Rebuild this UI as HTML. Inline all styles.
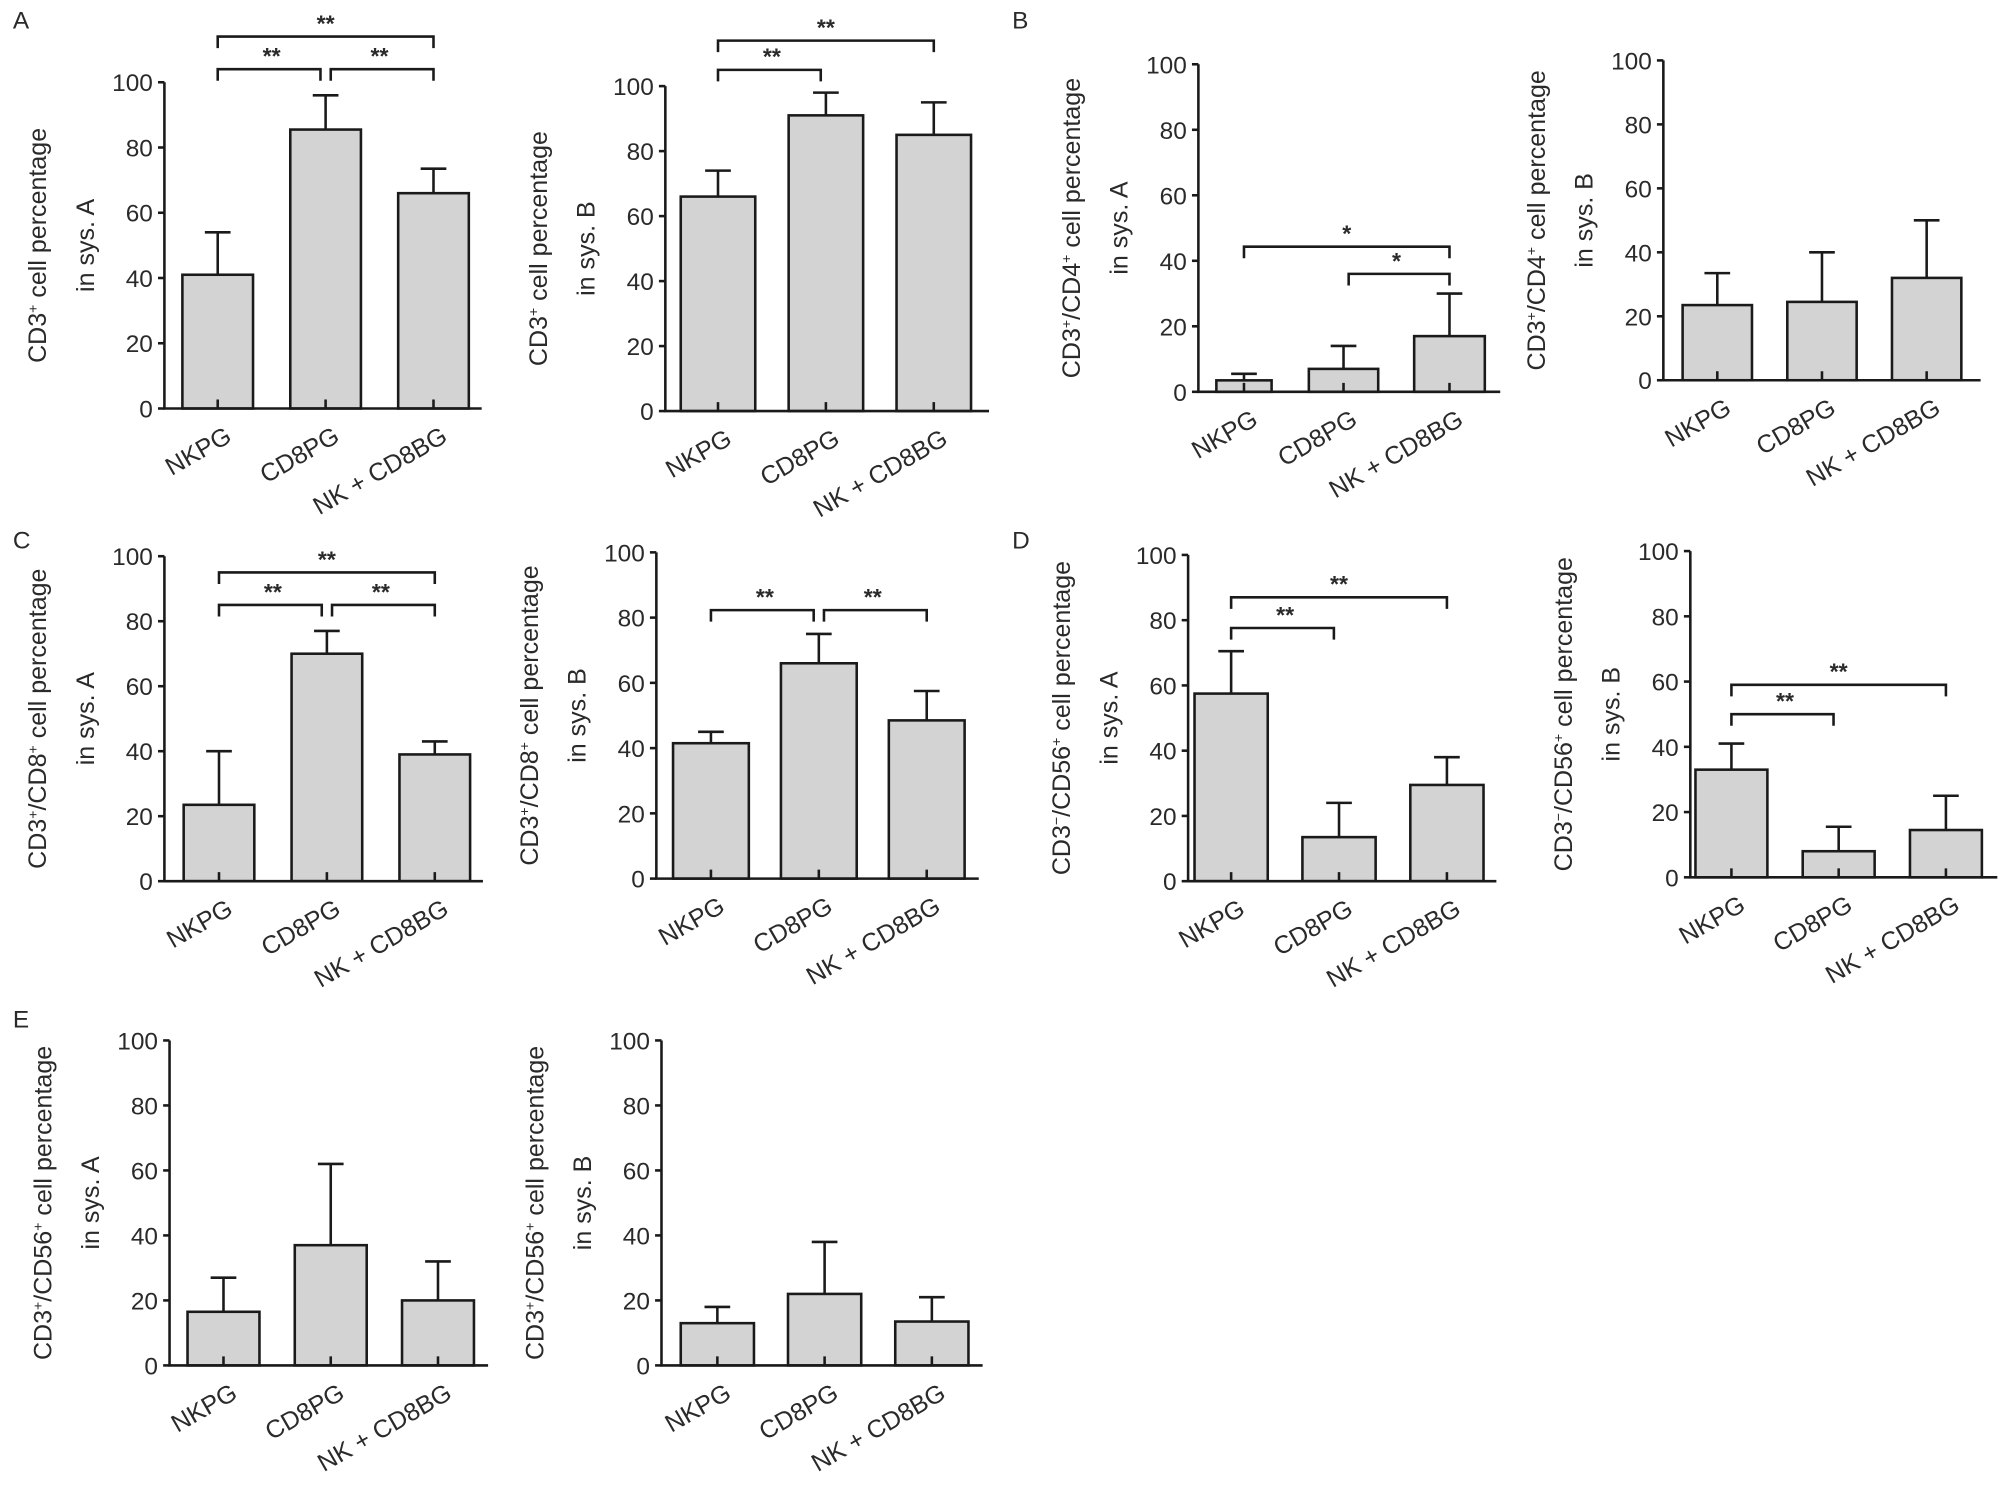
<!DOCTYPE html>
<html><head><meta charset="utf-8"><style>
html,body{margin:0;padding:0;background:#fff;}
svg{display:block;}
text{font-family:"Liberation Sans",Arial,sans-serif;fill:#2a2a2a;}
</style></head><body>
<svg id="fig" width="2014" height="1488" viewBox="0 0 1568 1158.4" xmlns="http://www.w3.org/2000/svg"></svg>
<script>
const categories = ["NKPG", "CD8PG", "NK + CD8BG"];
const yTicks = [0, 20, 40, 60, 80, 100];
const aLeftMeans = [41, 85.5, 66];
const aLeftErr = [13, 10.5, 7.5];
const aRightMeans = [66, 91, 85];
const aRightErr = [8, 7, 10];
const bLeftMeans = [3.5, 7, 17];
const bLeftErr = [2, 7, 13];
const bRightMeans = [23.5, 24.5, 32];
const bRightErr = [10, 15.5, 18];
const cLeftMeans = [23.5, 70, 39];
const cLeftErr = [16.5, 7, 4];
const cRightMeans = [41.5, 66, 48.5];
const cRightErr = [3.5, 9, 9];
const dLeftMeans = [57.5, 13.5, 29.5];
const dLeftErr = [13, 10.5, 8.5];
const dRightMeans = [33, 8, 14.5];
const dRightErr = [8, 7.5, 10.5];
const eLeftMeans = [16.5, 37, 20];
const eLeftErr = [10.5, 25, 12];
const eRightMeans = [13, 22, 13.5];
const eRightErr = [5, 16, 7.5];

const NS = "http://www.w3.org/2000/svg";
const svg = document.getElementById("fig");
function el(tag, attrs, parent) {
  const e = document.createElementNS(NS, tag);
  for (const k in attrs) e.setAttribute(k, attrs[k]);
  (parent || svg).appendChild(e);
  return e;
}

const panels = [
  {id:"a-left", ax:128, y100:64, y0:318, b0:142, bw:55, step:84, end:375, m:aLeftMeans, e:aLeftErr, t1:["CD3","+"," cell percentage"], t2:"in sys. A", sig:[[0,1,104,"**"],[1,2,104,"**"],[0,2,114,"**"]]},
  {id:"a-right", ax:518, y100:67, y0:320, b0:530, bw:58, step:84, end:770, m:aRightMeans, e:aRightErr, t1:["CD3","+"," cell percentage"], t2:"in sys. B", sig:[[0,1,105,"**"],[0,2,114,"**"]]},
  {id:"b-left", ax:933, y100:50, y0:305, b0:947, bw:43, step:77, end:1168, m:bLeftMeans, e:bLeftErr, t1:["CD3","+","/CD4","+"," cell percentage"], t2:"in sys. A", sig:[[0,2,44.3,"*"],[1,2,36,"*"]], bw2:[43,54,55], bx:[947,1019,1101]},
  {id:"b-right", ax:1295, y100:47, y0:296, b0:1310, bw:54, step:81.5, end:1542, m:bRightMeans, e:bRightErr, t1:["CD3","+","/CD4","+"," cell percentage"], t2:"in sys. B", sig:[]},
  {id:"c-left", ax:128, y100:433, y0:686, b0:143, bw:55, step:84, end:376, m:cLeftMeans, e:cLeftErr, t1:["CD3","+","/CD8","+"," cell percentage"], t2:"in sys. A", sig:[[0,1,85,"**"],[1,2,85,"**"],[0,2,95,"**"]]},
  {id:"c-right", ax:511, y100:430, y0:684, b0:524, bw:59, step:84, end:762, m:cRightMeans, e:cRightErr, t1:["CD3","+","/CD8","+"," cell percentage"], t2:"in sys. B", sig:[[0,1,82.3,"**"],[1,2,82.3,"**"]]},
  {id:"d-left", ax:925, y100:432, y0:686, b0:930, bw:57, step:84, end:1165, m:dLeftMeans, e:dLeftErr, t1:["CD3","-","/CD56","+"," cell percentage"], t2:"in sys. A", sig:[[0,1,77.6,"**"],[0,2,87,"**"]]},
  {id:"d-right", ax:1316, y100:429, y0:683, b0:1320, bw:56, step:83.5, end:1555, m:dRightMeans, e:dRightErr, t1:["CD3","-","/CD56","+"," cell percentage"], t2:"in sys. B", sig:[[0,1,50,"**"],[0,2,59,"**"]]},
  {id:"e-left", ax:132, y100:810, y0:1063, b0:146, bw:56, step:83.5, end:380, m:eLeftMeans, e:eLeftErr, t1:["CD3","+","/CD56","+"," cell percentage"], t2:"in sys. A", sig:[]},
  {id:"e-right", ax:515, y100:810, y0:1063, b0:530, bw:57, step:83.5, end:765, m:eRightMeans, e:eRightErr, t1:["CD3","+","/CD56","+"," cell percentage"], t2:"in sys. B", sig:[]}
];

panels.forEach(p => {
  const g = el("g", {});
  
  
  const ys = v => p.y0 - (p.y0 - p.y100) * v / 100;
  const bx = i => p.bx ? p.bx[i] : p.b0 + i * p.step;
  const bwid = i => p.bw2 ? p.bw2[i] : p.bw;
  p.m.forEach((v, i) => {
    const x = bx(i), w = bwid(i), cx = x + w / 2;
    const r = el("rect", {x:x, y:ys(v), width:w, height:p.y0 - ys(v), fill:"#d3d3d3", stroke:"#1a1a1a", "stroke-width":2}, g);
    
    
    const top = ys(v + p.e[i]);
    const eb = el("path", {d:`M${cx},${ys(v)}V${top}M${cx-10},${top}H${cx+10}M${cx},${p.y0}v-7`, stroke:"#1a1a1a", "stroke-width":2, fill:"none"}, g);
    
    
    const lt = el("text", {x:cx + 12, y:p.y0 + 25, "text-anchor":"end", "font-size":19.5, transform:`rotate(-30 ${cx+12} ${p.y0+25})`}, g);
    lt.textContent = categories[i];
    
    
  });
  const ax = el("path", {d:`M${p.ax},${p.y100}V${p.y0}H${p.end}`, stroke:"#1a1a1a", "stroke-width":2, fill:"none"}, g);
  
  
  yTicks.forEach(t => {
    const y = ys(t);
    el("path", {d:`M${p.ax-5},${y}H${p.ax}`, stroke:"#1a1a1a", "stroke-width":2}, g);
    const tl = el("text", {x:p.ax - 9, y:y + 7, "text-anchor":"end", "font-size":19}, g);
    tl.textContent = t;
    
    
  });
  const my = (p.y0 + p.y100) / 2;
  const t1 = el("text", {x:0, y:0, "text-anchor":"middle", "font-size":19.5, transform:`translate(${p.ax-92},${my}) rotate(-90)`}, g);
  
  
  p.t1.forEach((s, k) => {
    const sp = el("tspan", {}, t1);
    if (s === "+" || s === "-") { sp.setAttribute("font-size", 11); sp.setAttribute("dy", -7); }
    else if (k > 0 && (p.t1[k-1] === "+" || p.t1[k-1] === "-")) { sp.setAttribute("dy", 7); }
    sp.textContent = s === "-" ? "\u2212" : s;
  });
  const t2 = el("text", {x:0, y:0, "text-anchor":"middle", "font-size":19.5, transform:`translate(${p.ax-55},${my}) rotate(-90)`}, g);
  t2.textContent = p.t2;
  
  
  p.sig.forEach(s => {
    const x1 = bx(s[0]) + bwid(s[0]) / 2;
    const x2 = bx(s[1]) + bwid(s[1]) / 2;
    const y = ys(s[2]);
    const off1 = (s[0] === 1) ? 4 : 0, off2 = (s[1] === 1) ? -4 : 0;
    const br = el("path", {d:`M${x1+off1},${y+9}V${y}H${x2+off2}V${y+9}`, stroke:"#1a1a1a", "stroke-width":2, fill:"none"}, g);
    
    
    const st = el("text", {x:(x1 + x2) / 2, y:y - 4, "text-anchor":"middle", "font-size":18, "font-weight":"bold"}, g);
    st.textContent = s[3];
    
    
  });
});

[["A",10,22],["B",788,22],["C",10,427],["D",788,427],["E",10,800]].forEach(l => {
  const t = el("text", {x:l[1], y:l[2], "font-size":19});
  t.textContent = l[0];
  
  
});
</script>
</body></html>
